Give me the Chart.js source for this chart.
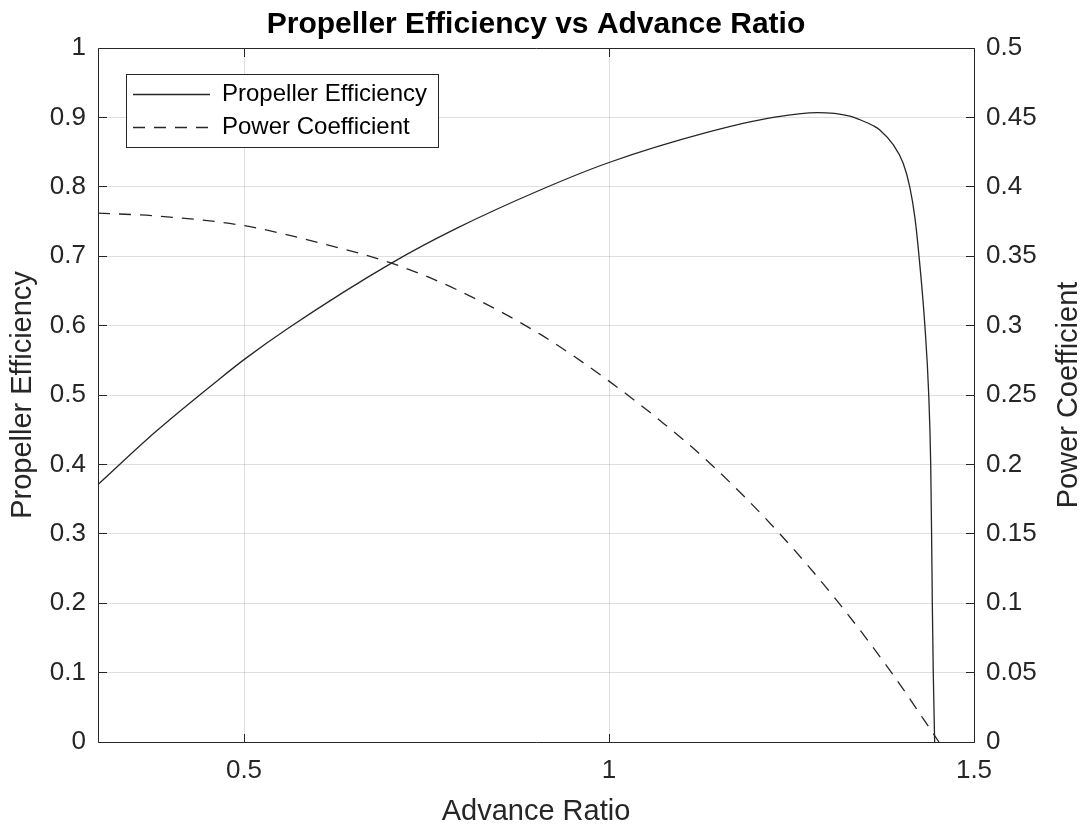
<!DOCTYPE html>
<html><head><meta charset="utf-8">
<script src="https://cdn.jsdelivr.net/npm/chart.js@4.4.1/dist/chart.umd.min.js"></script>
<style>html,body{margin:0;padding:0;background:#fff;}canvas{display:block;}</style>
</head><body>
<canvas id="c" width="1089" height="827"></canvas>
<script>
// ---- chart text ----
const titleText = 'Propeller Efficiency vs Advance Ratio';
const xLabel = 'Advance Ratio';
const leftLabel = 'Propeller Efficiency';
const rightLabel = 'Power Coefficient';
const seriesNames = ['Propeller Efficiency', 'Power Coefficient'];

// ---- data ----
const effJ = [0.300, 0.380, 0.464, 0.500, 0.563, 0.702, 0.791, 0.905, 1.000, 1.133, 1.225, 1.286, 1.330, 1.343, 1.362, 1.371, 1.389, 1.403, 1.412, 1.419, 1.4247, 1.4327, 1.4380, 1.4407, 1.4419, 1.4429, 1.4442, 1.4461];
const effVals = [0.371, 0.448, 0.521, 0.551, 0.598, 0.690, 0.740, 0.795, 0.835, 0.878, 0.900, 0.907, 0.902, 0.897, 0.888, 0.882, 0.861, 0.834, 0.800, 0.756, 0.700, 0.600, 0.500, 0.400, 0.300, 0.200, 0.100, 0.000];
const cpJ = [0.300, 0.380, 0.500, 0.608, 0.702, 0.791, 0.905, 1.000, 1.076, 1.140, 1.234, 1.315, 1.387, 1.452];
const cpVals = [0.381, 0.379, 0.372, 0.359, 0.345, 0.326, 0.294, 0.260, 0.229, 0.200, 0.150, 0.100, 0.050, 0.000];

// ---- ticks ----
const xTicks = [0.5, 1, 1.5];
const leftTicks = [0, 0.1, 0.2, 0.3, 0.4, 0.5, 0.6, 0.7, 0.8, 0.9, 1];
const rightTicks = [0, 0.05, 0.1, 0.15, 0.2, 0.25, 0.3, 0.35, 0.4, 0.45, 0.5];

const FONT = '"Liberation Sans", Arial, Helvetica, sans-serif';
const AXIS = '#262626';
const GRID = 'rgba(38,38,38,0.15)';
const LINE = '#262626';

function pts(xs, ys) { return xs.map((x, i) => ({x: x, y: ys[i]})); }

const framePlugin = {
  id: 'frame',
  afterDatasetsDraw(chart) {
    const {ctx, chartArea: a, scales} = chart;
    const al = v => Math.round(v - 0.5) + 0.5;
    const L = al(a.left), R = al(a.right), T = al(a.top), B = al(a.bottom);
    const tl = 8.5;
    ctx.save();
    ctx.strokeStyle = AXIS;
    ctx.lineWidth = 1;
    ctx.beginPath();
    ctx.rect(L, T, R - L, B - T);
    xTicks.forEach(v => {
      const p = al(scales.x.getPixelForValue(v));
      ctx.moveTo(p, B); ctx.lineTo(p, B - tl);
      ctx.moveTo(p, T); ctx.lineTo(p, T + tl);
    });
    leftTicks.forEach(v => {
      const p = al(scales.y.getPixelForValue(v));
      ctx.moveTo(L, p); ctx.lineTo(L + tl, p);
    });
    rightTicks.forEach(v => {
      const p = al(scales.y2.getPixelForValue(v));
      ctx.moveTo(R, p); ctx.lineTo(R - tl, p);
    });
    ctx.stroke();

    // right axis title (reads bottom to top)
    ctx.fillStyle = AXIS;
    ctx.font = '29px ' + FONT;
    ctx.textAlign = 'center';
    ctx.textBaseline = 'middle';
    ctx.translate(1069, (a.top + a.bottom) / 2);
    ctx.rotate(-Math.PI / 2);
    ctx.fillText(rightLabel, 0, 0);
    ctx.restore();
  },
  afterDraw(chart) {
    const {ctx} = chart;
    const box = {x: 126, y: 74, w: 312, h: 73};
    ctx.save();
    ctx.fillStyle = '#fff';
    ctx.fillRect(box.x, box.y, box.w, box.h);
    ctx.strokeStyle = AXIS;
    ctx.lineWidth = 1;
    ctx.strokeRect(box.x + 0.5, box.y + 0.5, box.w, box.h);
    const rows = [94, 127];
    chart.data.datasets.forEach((ds, i) => {
      const y = rows[i] + 0.5;
      ctx.beginPath();
      ctx.strokeStyle = ds.borderColor;
      ctx.lineWidth = ds.borderWidth;
      ctx.setLineDash(ds.borderDash || []);
      ctx.moveTo(133, y); ctx.lineTo(210, y);
      ctx.stroke();
      ctx.setLineDash([]);
      ctx.fillStyle = '#000';
      ctx.font = '24px ' + FONT;
      ctx.textAlign = 'left';
      ctx.textBaseline = 'middle';
      ctx.fillText(ds.label, 222, rows[i]);
    });
    ctx.restore();
  }
};

new Chart(document.getElementById('c'), {
  type: 'line',
  data: {
    datasets: [
      {
        label: seriesNames[0],
        data: pts(effJ, effVals),
        yAxisID: 'y',
        borderColor: LINE,
        borderWidth: 1.3,
        pointRadius: 0,
        fill: false,
        cubicInterpolationMode: 'monotone'
      },
      {
        label: seriesNames[1],
        data: pts(cpJ, cpVals),
        yAxisID: 'y2',
        borderColor: LINE,
        borderWidth: 1.3,
        borderDash: [12, 9],
        pointRadius: 0,
        fill: false,
        cubicInterpolationMode: 'monotone'
      }
    ]
  },
  options: {
    responsive: false,
    devicePixelRatio: 1,
    animation: false,
    events: [],
    layout: {padding: 0},
    plugins: {
      legend: {display: false},
      tooltip: {enabled: false},
      title: {
        display: true,
        text: titleText,
        fullSize: false,
        color: '#000',
        font: {family: FONT, size: 30, weight: 'bold', lineHeight: 1.2},
        padding: {top: 7, bottom: 5}
      }
    },
    scales: {
      x: {
        type: 'linear',
        position: 'bottom',
        min: 0.3, max: 1.5,
        afterBuildTicks: s => { s.ticks = xTicks.map(v => ({value: v})); },
        afterFit: s => { s.height = 85; },
        ticks: {
          color: AXIS, padding: 13,
          font: {family: FONT, size: 26},
          callback: v => String(v)
        },
        grid: {color: GRID, lineWidth: 1, drawTicks: false},
        border: {display: false},
        title: {
          display: true, text: xLabel, color: AXIS,
          font: {family: FONT, size: 29, lineHeight: 1},
          padding: {top: 0, bottom: 1}
        }
      },
      y: {
        type: 'linear',
        position: 'left',
        min: 0, max: 1,
        afterBuildTicks: s => { s.ticks = leftTicks.map(v => ({value: v})); },
        afterFit: s => { s.width = 98; },
        ticks: {
          color: AXIS, padding: 12,
          font: {family: FONT, size: 26},
          callback: v => String(v)
        },
        grid: {color: GRID, lineWidth: 1, drawTicks: false},
        border: {display: false},
        title: {
          display: true, text: leftLabel, color: AXIS,
          font: {family: FONT, size: 29, lineHeight: 1},
          padding: {top: 8, bottom: 0}
        }
      },
      y2: {
        type: 'linear',
        position: 'right',
        min: 0, max: 0.5,
        afterBuildTicks: s => { s.ticks = rightTicks.map(v => ({value: v})); },
        afterFit: s => { s.width = 115; },
        ticks: {
          color: AXIS, padding: 12,
          font: {family: FONT, size: 26},
          callback: v => String(v)
        },
        grid: {display: false, drawTicks: false},
        border: {display: false}
      }
    }
  },
  plugins: [framePlugin]
});
</script>
</body></html>
